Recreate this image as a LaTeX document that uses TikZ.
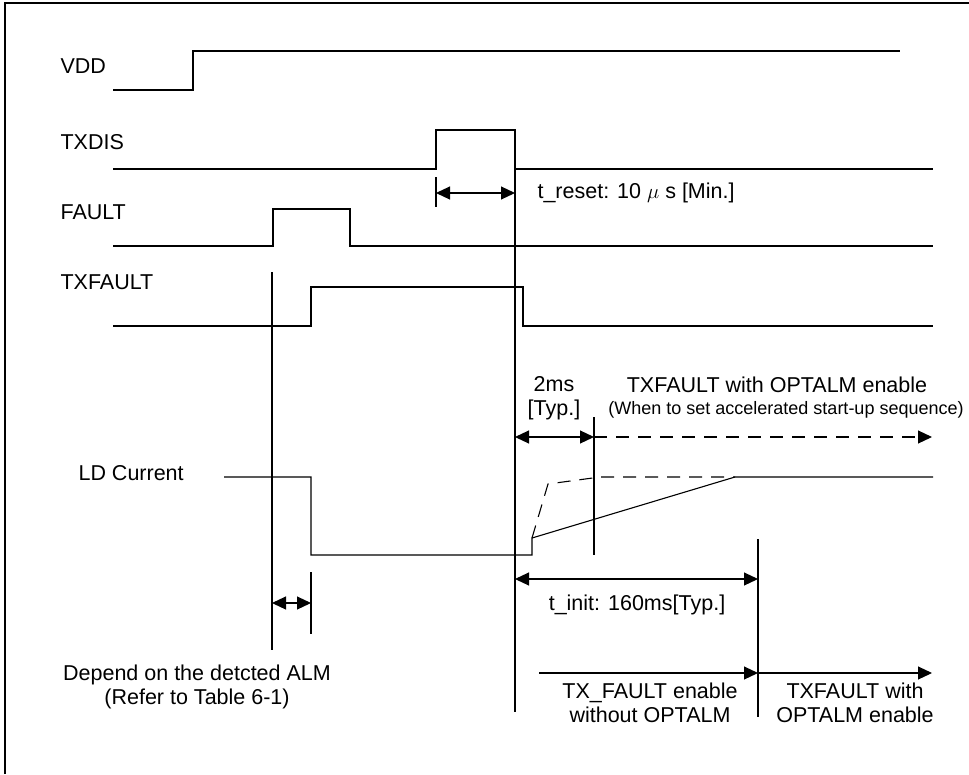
\documentclass[tikz,border=0pt]{standalone}
\usepackage{fontspec}
\setmainfont{Liberation Sans}
\usetikzlibrary{arrows.meta}
\usetikzlibrary{positioning}

\begin{document}
\begin{tikzpicture}[x=1pt,y=-1pt,
        line width=1.1pt,
        font=\fontsize{21.5}{24}\selectfont,
        lbl/.style = {anchor=west,inner sep=0pt},
        note/.style = {align=center,inner sep=0pt},
        guide/.style = {draw},
        dim/.style = {{Triangle[length=14pt,width=13pt]}-{Triangle[length=14pt,width=13pt]}},
        fwd/.style = {-{Triangle[length=14pt,width=13pt]}},
        dsh/.style = {dash pattern=on 13pt off 9pt}]
        \useasboundingbox (0,0) rectangle (969,774);
        \draw[line width=1.3pt] (5,774) -- (5,3) -- (969,3);
        % signal names
        \node[lbl] (vdd) at (60,66) {VDD};
        \node[lbl] (txdis) at (60,142) {TXDIS};
        \node[lbl] (fault) at (60,212) {FAULT};
        \node[lbl] (txfault) at (60,282) {TXFAULT};
        \node[lbl] (ld) at (78,473) {LD Current};
        % waveforms
        \draw (113,90) -| (193,51) -- (900,51);
        \draw (113,169) -| (436,130) -| (515,169) -- (933,169);
        \draw (113,246) -| (273,209) -| (350,246) -- (933,246);
        \draw (113,326) -| (311,287) -| (523,326) -- (933,326);
        \draw (224,477) -| (311,555) -- (532,555) -- (532,538) -- (735,477) -- (933,477);
        \draw[dsh] (532,538) -- (548,484) -- (600,477) -- (735,477);
        % time marks
        \coordinate (r0) at (436,193);
        \coordinate (r1) at (515,193);
        \coordinate (a0) at (272,603);
        \coordinate (a1) at (311,603);
        \coordinate (s0) at (515,437);
        \coordinate (s1) at (594,437);
        \coordinate (s2) at (932,437);
        \coordinate (i0) at (515,579);
        \coordinate (i1) at (758,579);
        \coordinate (e0) at (539,673);
        \coordinate (e1) at (758,673);
        \coordinate (e2) at (932,673);
        \path[guide]
            (436,177) -- (436,207)
            (515,169) -- (515,712)
            (272,272) -- (272,650)
            (311,572) -- (311,634)
            (594,417) -- (594,555)
            (758,539) -- (758,717);
        \path
            (r0) edge[dim] (r1)
            (a0) edge[dim] (a1)
            (s0) edge[dim] (s1)
            (s1) edge[fwd,dsh] (s2)
            (i0) edge[dim] (i1)
            (e0) edge[fwd] (e1)
            (e1) edge[fwd] (e2);
        % notes
        \node[lbl] (treset) at (537,193) {t\_reset: 10 $\mu$ s [Min.]};
        \node[note] (typ) at (554,398) {2ms\\{}[Typ.]};
        \node[note] (opt) at (777,385) {TXFAULT with OPTALM enable};
        \node[note,font=\fontsize{18}{20}\selectfont] (acc) at (786,410)
            {(When to set accelerated start-up sequence)};
        \node[note] (tinit) at (637,605) {t\_init: 160ms[Typ.]};
        \node[note] (wo) at (650,703) {TX\_FAULT enable\\without OPTALM};
        \node[note] (wi) at (855,703) {TXFAULT with\\OPTALM enable};
        \node[note] (dep) at (197,687) {Depend on the detcted ALM\\(Refer to Table 6-1)};
\end{tikzpicture}
\end{document}
